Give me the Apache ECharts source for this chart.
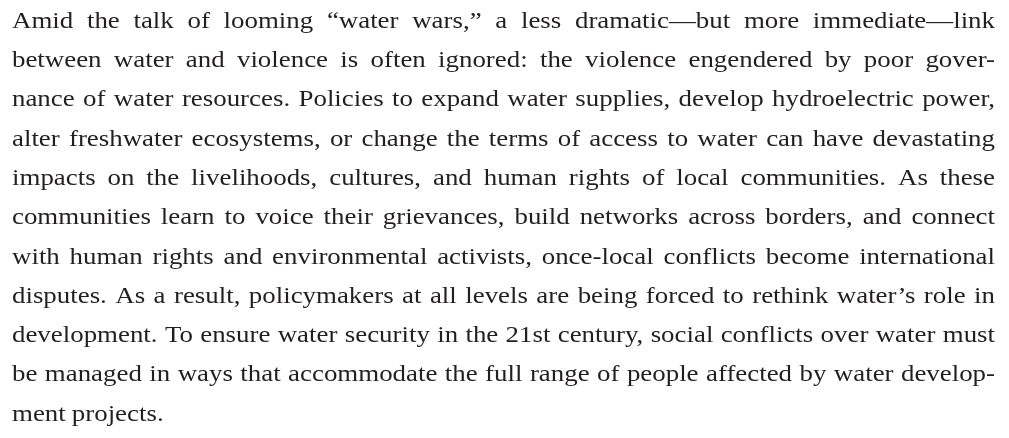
<!DOCTYPE html>
<html><head><meta charset="utf-8">
<script src="https://cdn.jsdelivr.net/npm/echarts@6/dist/echarts.min.js"></script>
<style>html,body{margin:0;padding:0;background:#fff}#main{width:1009px;height:438px}</style>
</head><body><div id="main"></div>
<script>
const lines = [
  "Amid the talk of looming \u201cwater wars,\u201d a less dramatic\u2014but more immediate\u2014link",
  "between water and violence is often ignored: the violence engendered by poor gover-",
  "nance of water resources. Policies to expand water supplies, develop hydroelectric power,",
  "alter freshwater ecosystems, or change the terms of access to water can have devastating",
  "impacts on the livelihoods, cultures, and human rights of local communities. As these",
  "communities learn to voice their grievances, build networks across borders, and connect",
  "with human rights and environmental activists, once-local conflicts become international",
  "disputes. As a result, policymakers at all levels are being forced to rethink water\u2019s role in",
  "development. To ensure water security in the 21st century, social conflicts over water must",
  "be managed in ways that accommodate the full range of people affected by water develop-",
  "ment projects."
];
const FONT_SIZE = 24;
const FAMILY = 'Liberation Serif';
const SCALE_X = 1.12;
const MIN_GAP = 4.5;
const LEFT = 12, RIGHT = 995, FIRST_MID = 21.5, LEADING = 39.3;
const COLOR = '#231f20';

const chart = echarts.init(document.getElementById('main'), null, {renderer: 'canvas'});
const ctx = document.createElement('canvas').getContext('2d');
ctx.font = FONT_SIZE + 'px ' + FAMILY;
const elements = [];
lines.forEach(function (line, i) {
  const words = line.split(' ');
  const raw = words.map(function (w) { return ctx.measureText(w).width; });
  const rawTotal = raw.reduce(function (a, b) { return a + b; }, 0);
  const justify = i < lines.length - 1 && words.length > 1;
  let sx = SCALE_X;
  const avail = RIGHT - LEFT - MIN_GAP * (words.length - 1);
  if (justify && rawTotal * sx > avail) sx = avail / rawTotal;
  const widths = raw.map(function (w) { return w * sx; });
  const total = rawTotal * sx;
  const gap = justify ? (RIGHT - LEFT - total) / (words.length - 1) : ctx.measureText(' ').width * sx * 0.9;
  let x = LEFT;
  words.forEach(function (w, j) {
    elements.push({
      type: 'text', x: x, y: FIRST_MID + i * LEADING, scaleX: sx, silent: true,
      style: {text: w, x: 0, y: 0, fontFamily: FAMILY, fontSize: FONT_SIZE, fill: COLOR, align: 'left', verticalAlign: 'middle'}
    });
    x += widths[j] + gap;
  });
});
chart.setOption({animation: false, backgroundColor: '#fff', graphic: {elements: elements}});
</script></body></html>
